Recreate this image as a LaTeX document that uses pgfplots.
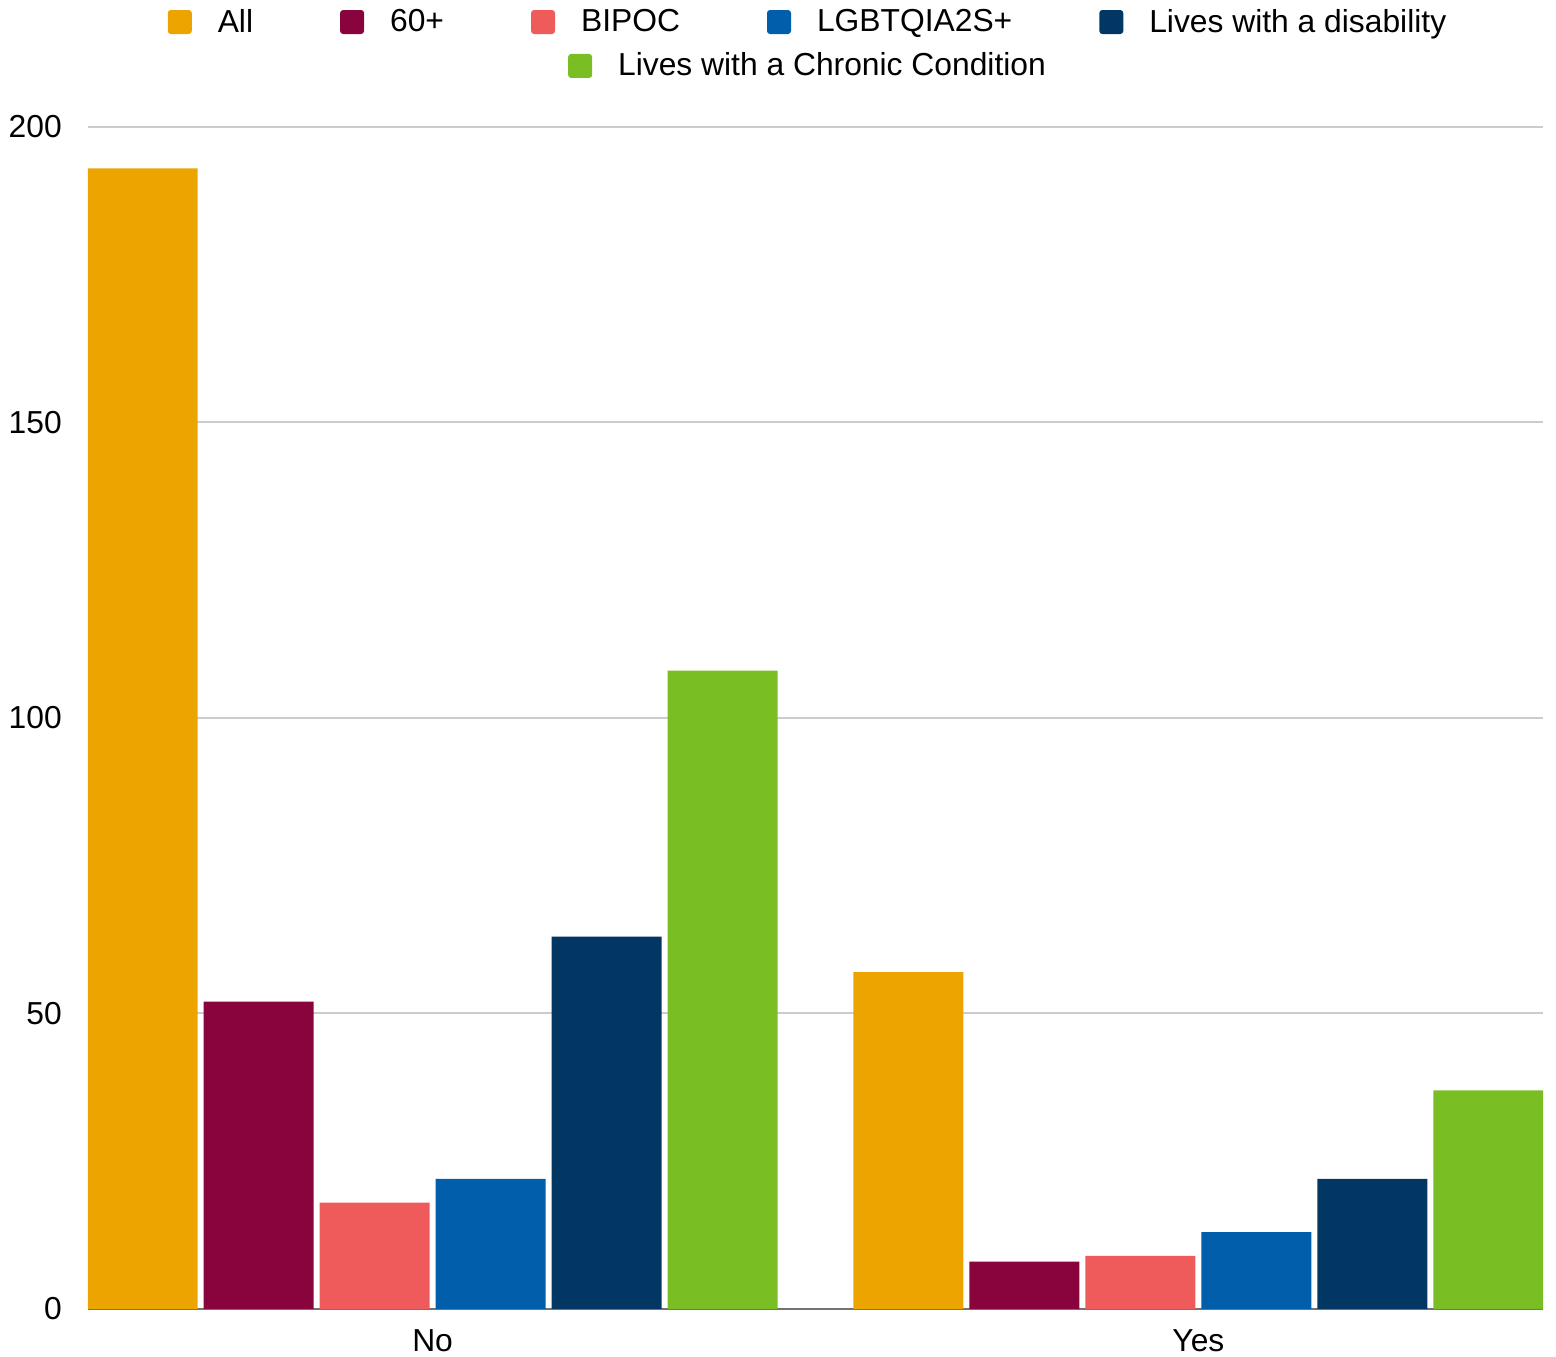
\documentclass[border=0pt]{standalone}
\usepackage{pgfplots}
\pgfplotsset{compat=1.18}
\usepackage{fontspec}
\setmainfont{Liberation Sans}
\definecolor{cAll}{HTML}{EBA400}
\definecolor{cSixty}{HTML}{89043D}
\definecolor{cBipoc}{HTML}{EF5B5B}
\definecolor{cLgbt}{HTML}{005EAA}
\definecolor{cDis}{HTML}{023764}
\definecolor{cChr}{HTML}{79BF23}
\pgfplotsset{
  sqlegend/.style={legend image code/.code={\fill[##1, draw=none, rounded corners=1.5pt] (0pt,-6pt) rectangle (12pt,6pt);}},
  legfont/.style={font=\fontsize{15.9}{18}\selectfont},
}
\begin{document}
\begin{tikzpicture}
\begin{axis}[
  name=ax,
  scale only axis,
  width=727.5pt, height=591pt,
  xmin=-0.45, xmax=1.45,
  ymin=0, ymax=200,
  ybar,
  bar width=0.1436,
  xtick={0,1}, xticklabels={No,Yes},
  ytick={50,100,150,200},
  extra y ticks={0},
  extra y tick style={major grid style={draw=black!55, line width=1pt}},
  ymajorgrids,
  major grid style={draw=black!20, line width=1pt},
  axis line style={draw=none},
  major tick length=0pt,
  tick label style={font=\fontsize{15.9}{18}\selectfont},
  /pgf/number format/assume math mode=true,
  yticklabel style={xshift=-9.6pt},
  xticklabel style={yshift=-6.8pt},
  sqlegend,
  legend columns=5,
  legend style={draw=none, fill=none, legfont, at={(0.5,1.0888)}, anchor=center, xshift=-4.25pt,
    /tikz/every odd column/.append style={column sep=13pt},
    /tikz/every even column/.append style={column sep=43.5pt},
    nodes={inner sep=0pt}},
  legend cell align=left,
]
\addplot[fill=cAll, draw=none, bar shift=-0.3786] coordinates {(0,193) (1,57)};
\addlegendentry{All}
\addplot[fill=cSixty, draw=none, bar shift=-0.2272] coordinates {(0,52) (1,8)};
\addlegendentry{60+}
\addplot[fill=cBipoc, draw=none, bar shift=-0.0757] coordinates {(0,18) (1,9)};
\addlegendentry{BIPOC}
\addplot[fill=cLgbt, draw=none, bar shift=0.0757] coordinates {(0,22) (1,13)};
\addlegendentry{LGBTQIA2S+}
\addplot[fill=cDis, draw=none, bar shift=0.2272] coordinates {(0,63) (1,22)};
\addlegendentry{Lives with a disability}
\addplot[fill=cChr, draw=none, bar shift=0.3786, forget plot] coordinates {(0,108) (1,37)};
\end{axis}
\begin{axis}[
  hide axis,
  scale only axis,
  width=727.5pt, height=591pt,
  xmin=0, xmax=1, ymin=0, ymax=1,
  sqlegend,
  legend style={draw=none, fill=none, legfont, at={(0.5,1.0516)}, anchor=center, xshift=-4.25pt,
    /tikz/every odd column/.append style={column sep=13pt},
    nodes={inner sep=0pt}},
  legend cell align=left,
]
\addlegendimage{fill=cChr, draw=none}
\addlegendentry{Lives with a Chronic Condition}
\end{axis}
\pgfresetboundingbox
\path[use as bounding box] ([shift={(-44pt,-24pt)}]ax.south west) rectangle ([shift={(6.5pt,63.5pt)}]ax.north east);
\end{tikzpicture}
\end{document}
